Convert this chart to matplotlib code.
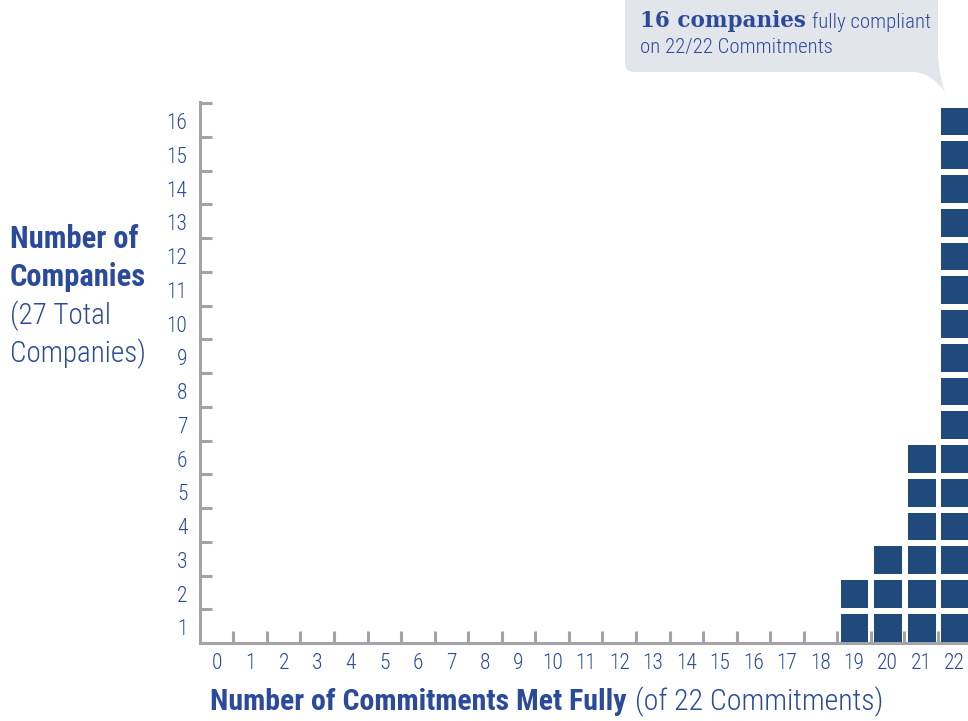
import matplotlib
matplotlib.use("Agg")
import matplotlib.pyplot as plt
from matplotlib import font_manager
from matplotlib.path import Path
from matplotlib.patches import PathPatch, Rectangle

# commitments met fully -> number of companies
commitments = [19, 20, 21, 22]
companies = [2, 3, 6, 16]
x_labels = [str(i) for i in range(23)]
y_labels = [str(i) for i in range(1, 17)]

BLUE_TEXT = "#2b4a9b"
SQUARE = "#1f4a7b"
AXIS_GRAY = "#a3a3a8"
CALLOUT_BG = "#e2e6eb"
W, H = 968, 721

installed = {f.name for f in font_manager.fontManager.ttflist}
NARROW = next((n for n in ["Roboto Condensed", "Liberation Sans Narrow",
                           "DejaVu Sans Condensed", "Liberation Sans"]
               if n in installed), "DejaVu Sans")
SERIF = next((n for n in ["DejaVu Serif", "Liberation Serif"] if n in installed),
             "serif")
LIGHT = 300

fig = plt.figure(figsize=(W / 100, H / 100), dpi=100)
ax = fig.add_axes([199.8 / W, (H - 643) / H, 1 - 199.8 / W, (643 - 102) / H])

# one square per company, stacked in each column
for c, n in zip(commitments, companies):
    for k in range(n):
        ax.add_patch(Rectangle((c + 0.1, k + 0.04), 0.83, 0.82,
                               facecolor=SQUARE, edgecolor="none",
                               clip_on=True, zorder=3))

ax.set_xlim(0, (W - 199.8) / 33.55)
ax.set_ylim(0, 16.03)

for side in ["top", "right"]:
    ax.spines[side].set_visible(False)
for side in ["left", "bottom"]:
    ax.spines[side].set_color(AXIS_GRAY)
    ax.spines[side].set_linewidth(2.2)

ax.set_xticks(range(1, 23))
ax.set_yticks(range(1, 17))
ax.tick_params(which="major", direction="in", length=8.5, width=2.2,
               color=AXIS_GRAY, labelbottom=False, labelleft=False)

ax.set_xticks([i + 0.5 for i in range(23)], minor=True)
ax.set_xticklabels(x_labels, minor=True)
ax.set_yticks([i - 0.54 for i in range(1, 17)], minor=True)
ax.set_yticklabels(y_labels, minor=True)
ax.tick_params(which="minor", length=0, labelsize=15.5, labelcolor=BLUE_TEXT)
ax.tick_params(axis="x", which="minor", pad=7)
ax.tick_params(axis="y", which="minor", pad=9)
for lbl in ax.get_xticklabels(minor=True) + ax.get_yticklabels(minor=True):
    lbl.set_fontfamily(NARROW)
    lbl.set_fontweight(LIGHT)

# axis titles
ylab = [("Number of", "bold", 22), ("Companies", "bold", 22),
        ("(27 Total", LIGHT, 21), ("Companies)", LIGHT, 21)]
for i, (txt, wt, sz) in enumerate(ylab):
    fig.text(10 / W, 1 - (239 + 38.3 * i) / H, txt, fontsize=sz,
             fontweight=wt, color=BLUE_TEXT, family=NARROW,
             ha="left", va="center")

xl = fig.text(210 / W, 1 - 702 / H, "Number of Commitments Met Fully",
              fontsize=21.5, fontweight="bold", color=BLUE_TEXT,
              family=NARROW, ha="left", va="center")
fig.canvas.draw()
bb = xl.get_window_extent()
fig.text((bb.x1 + 8) / W, 1 - 702 / H, "(of 22 Commitments)", fontsize=21.5,
         fontweight=LIGHT, color=BLUE_TEXT, family=NARROW,
         ha="left", va="center")


# callout bubble, drawn in pixel space (y measured from the top)
def px(x, y):
    return (x / W, 1 - y / H)


r = 9
verts = [px(625, -10), px(938, -10), px(938, 55),
         px(939, 75), px(945, 92), px(932, 74), px(915, 72),
         px(625 + r, 72), px(625, 72), px(625, 72 - r), px(625, -10)]
codes = [Path.MOVETO, Path.LINETO, Path.LINETO,
         Path.CURVE3, Path.CURVE3, Path.CURVE3, Path.CURVE3,
         Path.LINETO, Path.CURVE3, Path.CURVE3, Path.CLOSEPOLY]
fig.patches.append(PathPatch(Path(verts, codes), facecolor=CALLOUT_BG,
                             edgecolor="none", transform=fig.transFigure,
                             zorder=0))

t1 = fig.text(640 / W, 1 - 21 / H, "16 companies", fontsize=15.5,
              fontweight="bold", color=BLUE_TEXT, family=SERIF,
              ha="left", va="center")
fig.canvas.draw()
bb = t1.get_window_extent()
fig.text((bb.x1 + 6) / W, 1 - 22 / H, "fully compliant", fontsize=15,
         fontweight=LIGHT, color=BLUE_TEXT, family=NARROW,
         ha="left", va="center")
fig.text(640 / W, 1 - 48 / H, "on 22/22 Commitments", fontsize=15,
         fontweight=LIGHT, color=BLUE_TEXT, family=NARROW,
         ha="left", va="center")

fig.savefig("out.png", dpi=100)
